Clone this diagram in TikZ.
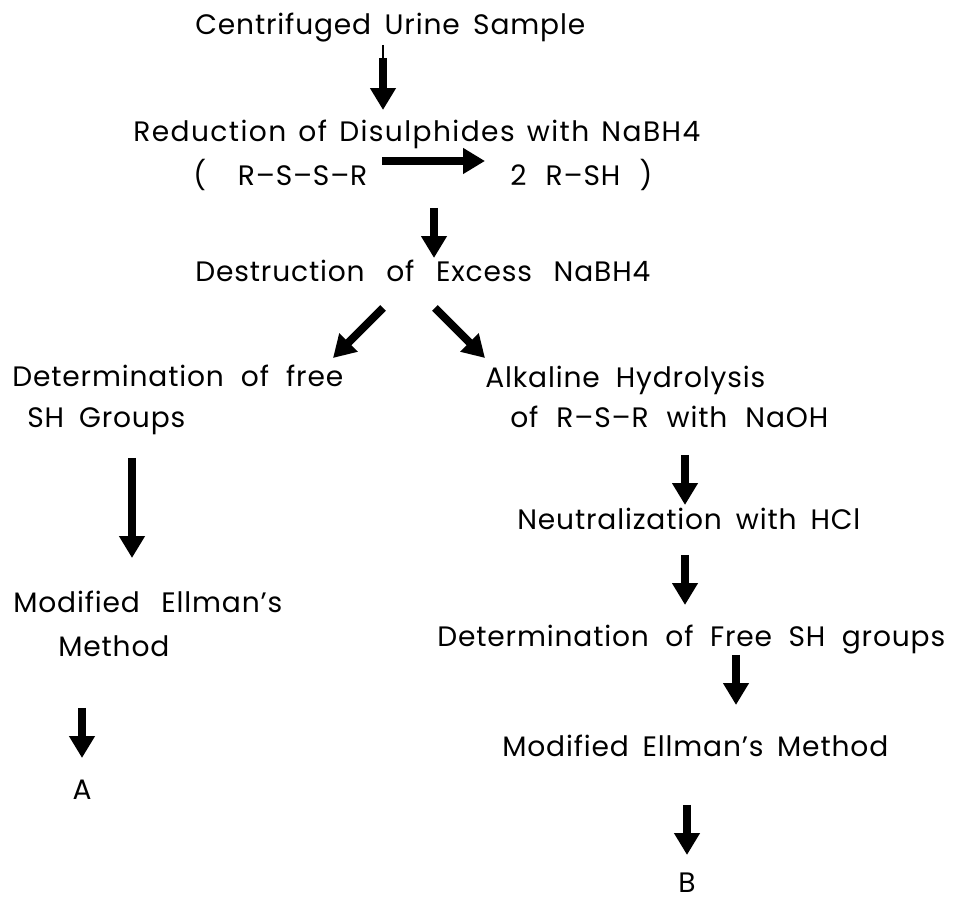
\documentclass[tikz,border=0pt]{standalone}
\usepackage{fontspec}
\setmainfont{Poppins}[LetterSpace=3.0]
\usetikzlibrary{arrows.meta}

% stretch a line of text to a given width
\newcommand{\fitto}[2]{\makebox[#1][s]{#2}}

\tikzset{
  step text/.style={inner sep=0pt, font=\fontsize{16}{18}\selectfont},
  flow/.style={line width=4.5pt, -{Triangle[width=14pt,length=12.5pt]}},
}

\begin{document}
\begin{tikzpicture}[x=0.02cm, y=-0.02cm]
  \useasboundingbox (0,0) rectangle (957,901);

  % main column
  \node[step text, anchor=base west] (sample) at (195,35) {\fitto{7.8cm}{Centrifuged Urine Sample}};
  \node[step text, anchor=base west] (reduce) at (133,142) {\addfontfeatures{LetterSpace=5.0}\fitto{11.34cm}{Reduction of Disulphides with NaBH4}};
  \node[step text, anchor=base west] (rssr) at (193,186) {\fitto{3.48cm}{( R--S--S--R}};
  \node[step text, anchor=base west] (rsh) at (510,186) {\fitto{2.84cm}{2 R--SH )}};
  \node[step text, anchor=base west] (destroy) at (195,282) {\fitto{9.1cm}{Destruction of Excess NaBH4}};

  % left branch
  \node[step text, anchor=base west] (freeA) at (12,387) {\fitto{6.62cm}{Determination of free}};
  \node[step text, anchor=base west] (freeB) at (27,428) {\fitto{3.16cm}{SH Groups}};
  \node[step text, anchor=base west] (ellA) at (13,613) {\fitto{5.38cm}{Modified Ellman's}};
  \node[step text, anchor=base west] (ellB) at (58,657) {Method};
  \node[step text, anchor=base] (resA) at (82,800) {A};

  % right branch
  \node[step text, anchor=base west] (hydA) at (485,388) {\fitto{5.6cm}{Alkaline Hydrolysis}};
  \node[step text, anchor=base west] (hydB) at (510,428) {\fitto{6.36cm}{of R--S--R with NaOH}};
  \node[step text, anchor=base west] (neutral) at (517,530) {\fitto{6.86cm}{Neutralization with HCl}};
  \node[step text, anchor=base west] (freeSH) at (437,647) {\fitto{10.16cm}{Determination of Free SH groups}};
  \node[step text, anchor=base west] (ellC) at (502,757) {\fitto{7.72cm}{Modified Ellman's Method}};
  \node[step text, anchor=base] (resB) at (687,892) {B};

  % arrow ends
  \coordinate (a0) at (383,45);
  \coordinate (a1) at (383,58);
  \coordinate (a2) at (383,110);
  \coordinate (r1) at (382,161);
  \coordinate (r2) at (485,161);
  \coordinate (d1) at (434,208);
  \coordinate (d2) at (434,258);
  \coordinate (l1) at (383,308);
  \coordinate (l2) at (333,358);
  \coordinate (h1) at (435,308);
  \coordinate (h2) at (485,358);
  \coordinate (m1) at (132,458);
  \coordinate (m2) at (132,558);
  \coordinate (x1) at (82,708);
  \coordinate (x2) at (82,758);
  \coordinate (n1) at (685,455);
  \coordinate (n2) at (685,505);
  \coordinate (f1) at (685,555);
  \coordinate (f2) at (685,605);
  \coordinate (e1) at (736,655);
  \coordinate (e2) at (736,705);
  \coordinate (b1) at (687,805);
  \coordinate (b2) at (687,855);

  \draw[line width=0.6pt] (a0) -- (a1);
  \draw[flow] (a1) -- (a2);
  \draw[flow] (r1) -- (r2);
  \draw[flow] (d1) -- (d2);
  \draw[flow] (l1) -- (l2);
  \draw[flow] (h1) -- (h2);
  \draw[flow] (m1) -- (m2);
  \draw[flow] (x1) -- (x2);
  \draw[flow] (n1) -- (n2);
  \draw[flow] (f1) -- (f2);
  \draw[flow] (e1) -- (e2);
  \draw[flow] (b1) -- (b2);
\end{tikzpicture}
\end{document}
